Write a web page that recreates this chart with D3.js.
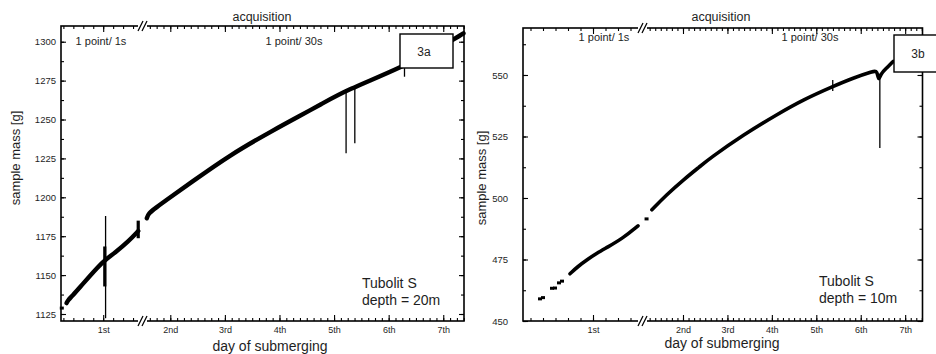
<!DOCTYPE html>
<html>
<head>
<meta charset="utf-8">
<script src="https://cdn.jsdelivr.net/npm/d3@7"></script>
<style>
  body { margin: 0; background: #fff; }
  svg text { font-family: "Liberation Sans", Arial, sans-serif; fill: #1e1e1e; }
</style>
</head>
<body>
<svg id="chart" width="936" height="354"></svg>
<script>
// ---- data (x in days of submerging, y in g) ----
const dayTicks = [1, 2, 3, 4, 5, 6, 7];
const dayLabels = ['1st', '2nd', '3rd', '4th', '5th', '6th', '7th'];
const massTicksA = [1125, 1150, 1175, 1200, 1225, 1250, 1275, 1300];
const massTicksB = [450, 475, 500, 525, 550];

// 3a, depth 20 m : 1 point / 1s part
const aFastDay  = [0.54, 0.56, 0.61, 0.73, 0.94, 1.02, 1.15, 1.32, 1.44];
const aFastMass = [1132, 1134.1, 1136.5, 1143.5, 1155.6, 1159.5, 1164.5, 1171.8, 1178.3];
const aFastDotDay  = [0.48];
const aFastDotMass = [1128.8];
const aFastSpikeDay = [1.03];
const aFastSpikeLo  = [1122.3];
const aFastSpikeHi  = [1188];
const aFastBurstDay = [1.02, 1.44];
const aFastBurstLo  = [1142.7, 1173.7];
const aFastBurstHi  = [1168.4, 1185];
// 3a : 1 point / 30s part
const aSlowDay  = [1.57, 1.60, 1.72, 2.0, 2.36, 3.09, 3.89, 4.38, 4.74, 5.23, 6.21, 7.18, 7.37];
const aSlowMass = [1186.5, 1189.6, 1192.9, 1200, 1209, 1227.2, 1243.2, 1252.5, 1259.3, 1269, 1282.9, 1301, 1305.4];
const aSlowSpikeDay = [5.22, 5.38, 6.29];
const aSlowSpikeLo  = [1228.3, 1234.7, 1277.5];
const aSlowSpikeHi  = [1269, 1271, 1283];

// 3b, depth 10 m : 1 point / 1s part
const bFastDay  = [0.77, 0.85, 0.94, 1.04, 1.14, 1.30, 1.45];
const bFastMass = [469.2, 472.2, 474.9, 477.6, 479.9, 483.7, 488.7];
const bFastDotDay  = [0.47, 0.50, 0.59, 0.62, 0.66, 0.69];
const bFastDotMass = [459, 459.5, 463.3, 463.4, 465.5, 466.2];
// 3b : 1 point / 30s part
const bSlowDay  = [1.30, 1.63, 2.01, 2.38, 2.61, 3.36, 4.11, 4.71, 5.38, 5.83, 6.28, 6.37, 6.40, 6.45, 6.58, 6.73];
const bSlowMass = [495.2, 501.3, 507.4, 512.8, 516.2, 525.7, 533.9, 540, 545.4, 548.8, 551.5, 551.8, 547.4, 550.5, 552.8, 555.5];
const bSlowDotDay  = [1.18];
const bSlowDotMass = [491.5];
const bSlowSpikeDay = [5.37, 6.43];
const bSlowSpikeLo  = [543.5, 520.3];
const bSlowSpikeHi  = [548, 550.5];

const zip = (xs, ys) => xs.map((x, i) => [x, ys[i]]);
const spikes = (xs, lo, hi) => xs.map((x, i) => [x, lo[i], hi[i]]);

const panels = [
  {
    left: 61, right: 464, top: 26, bottom: 321, split: 143,
    fastDomain: [0.47, 1.5], slowDomain: [1.5, 7.38],
    yDomain: [1120.5, 1310.1], yTicks: massTicksA, minorY: 12.5, labelPad: 5,
    band: 4.4,
    fast: zip(aFastDay, aFastMass), fastDots: zip(aFastDotDay, aFastDotMass),
    fastSpikes: spikes(aFastSpikeDay, aFastSpikeLo, aFastSpikeHi),
    fastBursts: spikes(aFastBurstDay, aFastBurstLo, aFastBurstHi),
    slow: zip(aSlowDay, aSlowMass), slowDots: [],
    slowSpikes: spikes(aSlowSpikeDay, aSlowSpikeLo, aSlowSpikeHi),
    box: { x: 400, y: 34, w: 53, h: 34, text: '3a' },
    title: { x: 262, y: 21 }, yLabel: { x: 20, y: 158 }, xLabel: { x: 270, y: 351 },
    rate1: { x: 101, y: 45 }, rate30: { x: 294, y: 45 },
    note: { x: 362, y: 288, depth: 'depth = 20m' }
  },
  {
    left: 523, right: 922.5, top: 28, bottom: 321, split: 643,
    fastDomain: [0.3, 1.5], slowDomain: [1.1, 7.39],
    yDomain: [450, 569.1], yTicks: massTicksB, minorY: 12.5, labelPad: 15,
    band: 3.6,
    fast: zip(bFastDay, bFastMass), fastDots: zip(bFastDotDay, bFastDotMass),
    fastSpikes: [], fastBursts: [],
    slow: zip(bSlowDay, bSlowMass), slowDots: zip(bSlowDotDay, bSlowDotMass),
    slowSpikes: spikes(bSlowSpikeDay, bSlowSpikeLo, bSlowSpikeHi),
    box: { x: 894, y: 35, w: 50, h: 37, text: '3b' },
    title: { x: 721, y: 21 }, yLabel: { x: 486, y: 178 }, xLabel: { x: 722, y: 348 },
    rate1: { x: 604, y: 41 }, rate30: { x: 810, y: 41 },
    note: { x: 819, y: 286, depth: 'depth = 10m' }
  }
];

const svg = d3.select('#chart');

function drawPanel(p) {
  const g = svg.append('g');
  const xFast = d3.scaleLinear().domain(p.fastDomain).range([p.left, p.split]);
  const xSlow = d3.scaleLinear().domain(p.slowDomain).range([p.split, p.right]);
  const y = d3.scaleLinear().domain(p.yDomain).range([p.bottom, p.top]);

  // frame
  g.append('rect')
    .attr('x', p.left).attr('y', p.top)
    .attr('width', p.right - p.left).attr('height', p.bottom - p.top)
    .attr('fill', 'none').attr('stroke', '#000').attr('stroke-width', 1.6);

  // x axes, ticks pointing inwards
  const minorDays = (dom) => d3.range(Math.ceil(dom[0] * 8), Math.floor(dom[1] * 8) + 1).map(k => k / 8);
  const fastMajor = dayTicks.filter(d => d >= p.fastDomain[0] && d < 1.5);
  const slowMajor = dayTicks.filter(d => d >= 1.5 && d <= p.slowDomain[1]);
  const label = d => dayLabels[dayTicks.indexOf(d)];

  [[xFast, fastMajor], [xSlow, slowMajor]].forEach(([sc, major]) => {
    const minor = minorDays(sc.domain());
    g.append('g').attr('transform', `translate(0,${p.bottom})`)
      .call(d3.axisBottom(sc).tickValues(minor).tickSize(-3).tickFormat(''));
    g.append('g').attr('transform', `translate(0,${p.top})`)
      .call(d3.axisTop(sc).tickValues(minor).tickSize(-3).tickFormat(''));
    g.append('g').attr('class', 'xmaj').attr('transform', `translate(0,${p.bottom})`)
      .call(d3.axisBottom(sc).tickValues(major).tickSize(-6).tickPadding(6).tickFormat(label));
    g.append('g').attr('transform', `translate(0,${p.top})`)
      .call(d3.axisTop(sc).tickValues(major).tickSize(-6).tickFormat(''));
  });

  // y axes
  const minorY = d3.range(Math.ceil(p.yDomain[0] / p.minorY), Math.floor(p.yDomain[1] / p.minorY) + 1)
    .map(k => k * p.minorY);
  g.append('g').attr('transform', `translate(${p.left},0)`)
    .call(d3.axisLeft(y).tickValues(minorY).tickSize(-3).tickFormat(''));
  g.append('g').attr('transform', `translate(${p.right},0)`)
    .call(d3.axisRight(y).tickValues(minorY).tickSize(-3).tickFormat(''));
  g.append('g').attr('class', 'ymaj').attr('transform', `translate(${p.left},0)`)
    .call(d3.axisLeft(y).tickValues(p.yTicks).tickSize(-5).tickPadding(p.labelPad).tickFormat(d3.format('d')));
  g.append('g').attr('transform', `translate(${p.right},0)`)
    .call(d3.axisRight(y).tickValues(p.yTicks).tickSize(-5).tickFormat(''));

  g.selectAll('.domain').remove();
  g.selectAll('.tick line').attr('stroke', '#000').attr('stroke-width', 1.1);
  g.selectAll('.xmaj text').style('font-size', '9px').attr('fill', '#1e1e1e');
  g.selectAll('.ymaj text').style('font-size', '9.5px').attr('fill', '#1e1e1e');

  // data
  const line = (sc) => d3.line().x(d => sc(d[0])).y(d => y(d[1])).curve(d3.curveBasis);
  const drawSeg = (sc, pts, dots, spk, bursts) => {
    g.append('path').datum(pts)
      .attr('d', line(sc))
      .attr('fill', 'none').attr('stroke', '#000')
      .attr('stroke-width', p.band).attr('stroke-linecap', 'round');
    g.selectAll(null).data(dots).enter().append('rect')
      .attr('x', d => sc(d[0]) - 2).attr('y', d => y(d[1]) - 1.5)
      .attr('width', 4).attr('height', 3).attr('fill', '#000');
    g.selectAll(null).data(spk).enter().append('line')
      .attr('x1', d => sc(d[0])).attr('x2', d => sc(d[0]))
      .attr('y1', d => y(d[1])).attr('y2', d => y(d[2]))
      .attr('stroke', '#000').attr('stroke-width', 1.3);
    g.selectAll(null).data(bursts).enter().append('rect')
      .attr('x', d => sc(d[0]) - 1.6).attr('y', d => y(d[2]))
      .attr('width', 3.2).attr('height', d => y(d[1]) - y(d[2])).attr('fill', '#000');
  };
  drawSeg(xFast, p.fast, p.fastDots, p.fastSpikes, p.fastBursts);
  drawSeg(xSlow, p.slow, p.slowDots, p.slowSpikes, []);

  // axis break marks
  [p.top, p.bottom].forEach(yy => {
    g.append('rect').attr('x', p.split - 5).attr('y', yy - 3).attr('width', 9).attr('height', 6).attr('fill', '#fff');
    [-2.5, 1.5].forEach(dx => {
      g.append('line')
        .attr('x1', p.split + dx - 2.5).attr('y1', yy + 5)
        .attr('x2', p.split + dx + 2.5).attr('y2', yy - 5)
        .attr('stroke', '#000').attr('stroke-width', 1.3);
    });
  });

  // label box
  g.append('rect')
    .attr('x', p.box.x).attr('y', p.box.y).attr('width', p.box.w).attr('height', p.box.h)
    .attr('fill', '#fff').attr('stroke', '#000').attr('stroke-width', 1.4);
  g.append('text')
    .attr('x', p.box.x + 24).attr('y', p.box.y + p.box.h / 2 + 4.5)
    .attr('text-anchor', 'middle').style('font-size', '12px').text(p.box.text);

  // texts
  g.append('text').attr('x', p.title.x).attr('y', p.title.y)
    .attr('text-anchor', 'middle').style('font-size', '12.5px').text('acquisition');
  g.append('text').attr('x', p.rate1.x).attr('y', p.rate1.y)
    .attr('text-anchor', 'middle').style('font-size', '11px').text('1 point/ 1s');
  g.append('text').attr('x', p.rate30.x).attr('y', p.rate30.y)
    .attr('text-anchor', 'middle').style('font-size', '11px').text('1 point/ 30s');
  g.append('text').attr('x', p.xLabel.x).attr('y', p.xLabel.y)
    .attr('text-anchor', 'middle').style('font-size', '14px').text('day of submerging');
  g.append('text')
    .attr('transform', `translate(${p.yLabel.x},${p.yLabel.y}) rotate(-90)`)
    .attr('text-anchor', 'middle').style('font-size', '13px').text('sample mass [g]');
  g.append('text').attr('x', p.note.x).attr('y', p.note.y)
    .style('font-size', '14px').text('Tubolit S');
  g.append('text').attr('x', p.note.x).attr('y', p.note.y + 17)
    .style('font-size', '14px').text(p.note.depth);
}

panels.forEach(drawPanel);
</script>
</body>
</html>
